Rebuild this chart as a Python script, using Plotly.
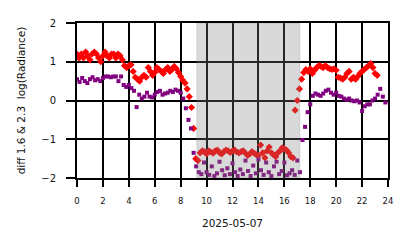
import plotly.graph_objects as go

# Red series: diff 1.6 (10-minute samples starting at 0 h)
red_vals = [
    1.20, 1.10, 1.20, 1.10, 1.25, 1.15, 1.05, 1.20, 1.25, 1.20, 1.10, 1.00,
    1.15, 1.25, 1.15, 1.10, 1.20, 1.20, 1.10, 1.20, 1.15, 1.05, 0.90, 0.85,
    0.90, 0.92, 0.75, 0.60, 0.55, 0.50, 0.60, 0.65, 0.60, 0.85, 0.75, 0.65,
    0.72, 0.85, 0.80, 0.75, 0.70, 0.80, 0.85, 0.75, 0.80, 0.88, 0.82, 0.72,
    0.62, 0.52, 0.45, 0.30, 0.10, -0.18, -0.72, -1.50, -1.55, -1.35, -1.30, -1.32,
    -1.38, -1.30, -1.33, -1.36, -1.30, -1.28, -1.35, -1.38, -1.32, -1.28, -1.30, -1.34,
    -1.30, -1.28, -1.33, -1.35, -1.32, -1.30, -1.36, -1.42, -1.38, -1.32, -1.36, -1.40,
    -1.42, -1.15, -1.35, -1.48, -1.30, -1.20, -1.35, -1.40, -1.45, -1.35, -1.30, -1.22,
    -1.25, -1.28, -1.35, -1.45, -1.48, -0.25, 0.00, 0.30, 0.55, 0.72, 0.80, 0.75,
    0.82, 0.70, 0.78, 0.85, 0.90, 0.88, 0.85, 0.90, 0.85, 0.82, 0.80, 0.82,
    0.78, 0.60, 0.58, 0.55, 0.60, 0.70, 0.75, 0.55, 0.60, 0.55, 0.62, 0.70,
    0.75, 0.80, 0.85, 0.90, 0.95, 0.85, 0.70, 0.65,
]
red_step_h = 1 / 6

# Purple series: diff 2.3 (12-minute samples starting at 0 h)
purple_vals = [
    0.55, 0.48, 0.58, 0.50, 0.45, 0.55, 0.60, 0.52, 0.55, 0.50,
    0.58, 0.62, 0.62, 0.60, 0.62, 0.62, 0.50, 0.62, 0.40, 0.35,
    0.40, 0.32, 0.25, -0.17, 0.15, 0.05, 0.10, 0.20, 0.10, 0.08,
    0.15, 0.22, 0.25, 0.15, 0.18, 0.20, 0.25, 0.22, 0.28, 0.25,
    0.20, 0.05, -0.20, -0.50, -0.72, -1.35, -1.70, -1.85, -1.90, -1.60,
    -1.85, -1.92, -1.70, -1.95, -1.88, -1.58, -1.80, -1.93, -1.75, -1.90,
    -1.62, -1.85, -1.95, -1.78, -1.90, -1.55, -1.82, -1.95, -1.68, -1.88,
    -1.52, -1.80, -1.92, -1.60, -1.85, -1.95, -1.70, -1.58, -1.90, -1.82,
    -1.60, -1.93, -1.88, -1.80, -1.92, -1.55, -1.85, -1.02, -0.68, -0.30,
    -0.10, 0.12, 0.18, 0.15, 0.12, 0.18, 0.25, 0.28, 0.20, 0.15,
    0.20, 0.12, 0.10, 0.05, 0.02, 0.05, 0.00, -0.02, 0.00, -0.05,
    -0.27, -0.15, -0.10, -0.10, 0.00, 0.05, 0.15, 0.30, 0.10, -0.05,
]
purple_step_h = 0.2

night_start_h = 9.25
night_end_h = 17.2

x_ticks = [0, 2, 4, 6, 8, 10, 12, 14, 16, 18, 20, 22, 24]
y_ticks = [-2, -1, 0, 1, 2]
y_tick_text = ["\u22122", "\u22121", "0", "1", "2"]

red_t = [i * red_step_h for i in range(len(red_vals))]
purple_t = [i * purple_step_h for i in range(len(purple_vals))]

fig = go.Figure()
fig.add_trace(go.Scatter(
    x=red_t, y=red_vals, mode="markers",
    marker=dict(symbol="diamond", size=5.5, color="#ff0000", line=dict(width=0)),
    showlegend=False,
))
fig.add_trace(go.Scatter(
    x=purple_t, y=purple_vals, mode="markers",
    marker=dict(symbol="square", size=4, color="#800080", line=dict(width=0)),
    showlegend=False,
))

fig.add_shape(
    type="rect", xref="x", yref="y",
    x0=night_start_h, x1=night_end_h, y0=-2, y1=2,
    fillcolor="rgba(128,128,128,0.3)",
    line=dict(width=1, color="rgba(128,128,128,0.25)"),
    layer="above",
)

font_family = "DejaVu Sans"
fig.update_layout(
    width=414, height=248,
    margin=dict(l=77, r=26, t=23, b=70),
    paper_bgcolor="white", plot_bgcolor="white",
    font=dict(family=font_family, color="#111111"),
    xaxis=dict(
        range=[0, 24], tickvals=x_ticks, ticktext=[str(v) for v in x_ticks],
        showgrid=True, gridcolor="black", gridwidth=2,
        zeroline=False, showline=True, linecolor="black", linewidth=2, mirror=True,
        ticks="outside", ticklen=7, tickwidth=2, tickcolor="black",
        ticklabelstandoff=7,
        tickfont=dict(size=8.5, family=font_family),
        title=dict(text="2025-05-07", font=dict(size=10.5, family=font_family), standoff=14),
    ),
    yaxis=dict(
        range=[-2, 2], tickvals=y_ticks, ticktext=y_tick_text,
        showgrid=True, gridcolor="black", gridwidth=2,
        zeroline=False, showline=True, linecolor="black", linewidth=2, mirror=True,
        ticks="outside", ticklen=9, tickwidth=2, tickcolor="black",
        ticklabelstandoff=8,
        tickfont=dict(size=10, family=font_family),
        title=dict(text="diff 1.6 &amp; 2.3  log(Radiance)", font=dict(size=10.5, family=font_family), standoff=14),
    ),
)

fig.write_html("out.html")
